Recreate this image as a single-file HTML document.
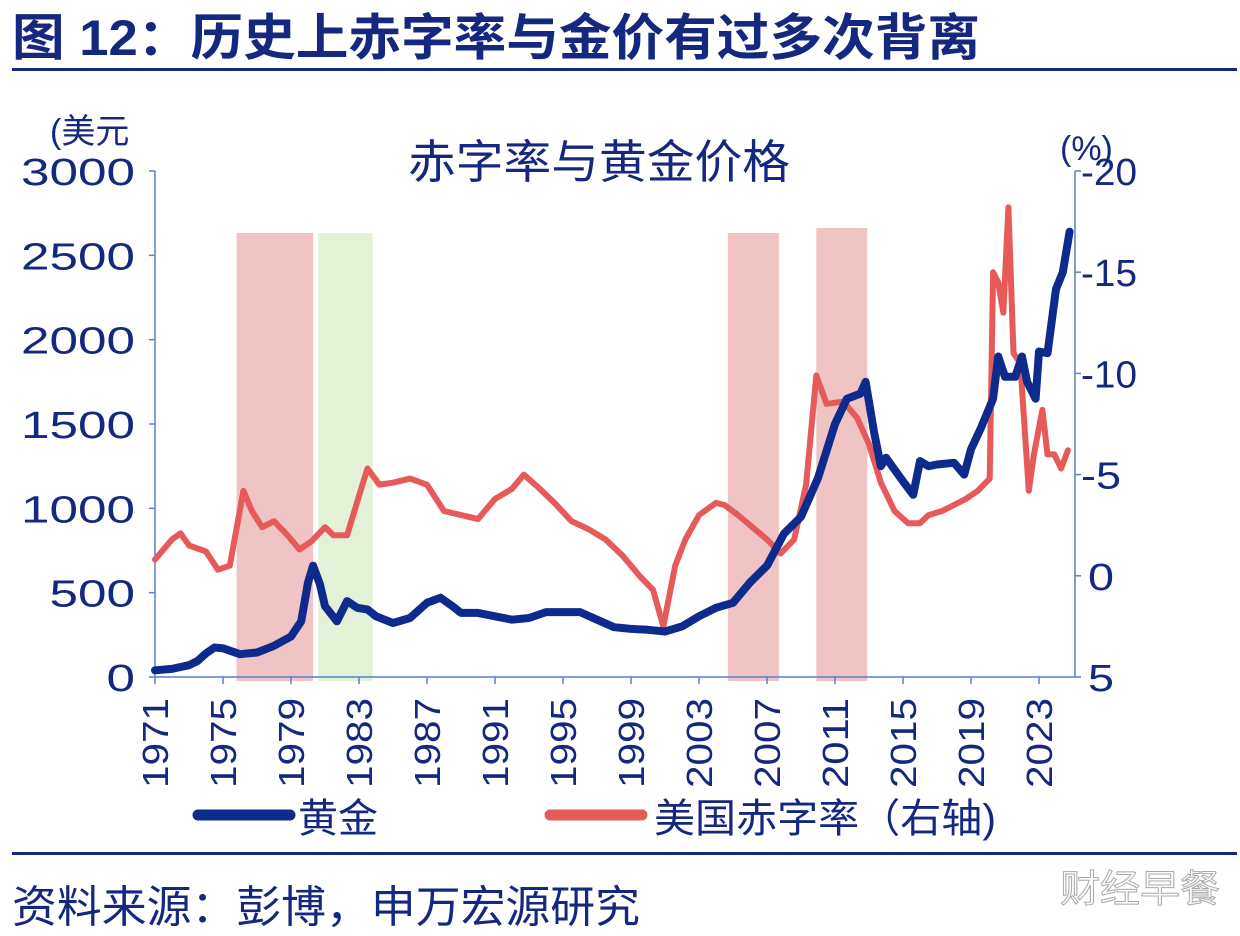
<!DOCTYPE html>
<html><head><meta charset="utf-8"><style>
html,body{margin:0;padding:0;background:#fff;}
body{width:1240px;height:936px;overflow:hidden;position:relative;font-family:"Liberation Sans","Noto Sans CJK SC",sans-serif;color:#14287f;}
</style></head><body>
<svg width="1240" height="936" viewBox="0 0 1240 936" xmlns="http://www.w3.org/2000/svg" style="position:absolute;left:0;top:0" font-family="Liberation Sans, Noto Sans CJK SC, sans-serif">
<text x="12" y="55" font-size="50" font-weight="bold" fill="#14287f" textLength="968" lengthAdjust="spacingAndGlyphs">图 12：历史上赤字率与金价有过多次背离</text>
<rect x="12" y="68" width="1225" height="3" fill="#14287f"/>
<text x="408" y="178" font-size="46" fill="#14287f" textLength="382" lengthAdjust="spacingAndGlyphs">赤字率与黄金价格</text>
<text x="50" y="143" font-size="34" fill="#14287f">(美元</text>
<text x="1060" y="160" font-size="34" fill="#14287f">(%)</text>
<g id="bands"></g>
<g id="axes"></g>
<g id="lines"></g>
<g>
<line x1="198" y1="815" x2="290" y2="815" stroke="#0d2a8c" stroke-width="11" stroke-linecap="round"/>
<text x="298" y="832" font-size="40" fill="#14287f">黄金</text>
<line x1="550" y1="815" x2="642" y2="815" stroke="#e65a5a" stroke-width="11" stroke-linecap="round"/>
<text x="654" y="832" font-size="40" fill="#14287f" textLength="342" lengthAdjust="spacingAndGlyphs">美国赤字率（右轴)</text>
</g>
<rect x="12" y="852" width="1225" height="3" fill="#14287f"/>
<text x="12" y="922" font-size="44" fill="#14287f" textLength="628" lengthAdjust="spacingAndGlyphs">资料来源：彭博，申万宏源研究</text>
<text x="1060" y="902" font-size="38" fill="#fff" stroke="#aaa" stroke-width="1" textLength="160" lengthAdjust="spacingAndGlyphs">财经早餐</text>
</svg>
<script>
const leftTicks=[0,500,1000,1500,2000,2500,3000];
const rightTicks=[5,0,-5,-10,-15,-20];
const yearTicks=[1971,1975,1979,1983,1987,1991,1995,1999,2003,2007,2011,2015,2019,2023];
const goldYears=[1971,1972,1973,1973.5,1974,1974.5,1975,1976,1977,1978,1979,1979.6,1980,1980.3,1980.7,1981,1981.7,1982.3,1982.9,1983.5,1984,1985,1986,1987,1987.8,1988.5,1989,1990,1991,1992,1993,1994,1995,1996,1997,1998,1999,2000,2001,2002,2003,2004,2005,2006,2007,2008,2009,2010,2011,2011.7,2012.5,2012.8,2013.3,2013.7,2014,2015,2015.6,2016,2016.5,2017,2018,2018.6,2019,2019.6,2020.3,2020.6,2021,2021.6,2022,2022.3,2022.8,2023,2023.5,2024,2024.4,2024.8];
const goldValues=[40,48,70,95,140,175,170,135,145,185,240,330,560,660,550,420,330,450,410,400,360,320,350,440,470,420,380,380,360,340,350,385,385,385,340,295,285,280,270,300,360,410,440,560,660,850,950,1180,1500,1650,1680,1750,1450,1250,1300,1160,1080,1280,1250,1260,1270,1200,1350,1480,1650,1900,1780,1780,1900,1750,1650,1930,1920,2300,2400,2640];
const defYears=[1971,1972,1972.5,1973,1974,1974.7,1975.4,1976.2,1976.7,1977.3,1978,1978.8,1979.5,1980.2,1981,1981.5,1982.3,1983.2,1983.5,1984.2,1985,1986,1987,1988,1989,1990,1991,1992,1992.7,1993.5,1994.5,1995.5,1996.5,1997.5,1998.5,1999.5,2000.3,2000.9,2001.6,2002.2,2003,2004,2004.5,2005.3,2006,2007,2007.8,2008.6,2009.3,2009.9,2010.5,2011.5,2012.3,2013,2013.7,2014.5,2015.3,2016,2016.5,2017.3,2018,2018.7,2019.4,2020.1,2020.3,2020.6,2020.9,2021.2,2021.5,2021.9,2022.4,2022.7,2023.2,2023.5,2023.9,2024.3,2024.7];
const defValues=[-0.8,-1.8,-2.1,-1.5,-1.2,-0.3,-0.5,-4.2,-3.2,-2.4,-2.7,-2.0,-1.3,-1.7,-2.4,-2.0,-2.0,-4.5,-5.3,-4.5,-4.6,-4.8,-4.5,-3.2,-3.0,-2.8,-3.8,-4.3,-5.0,-4.4,-3.6,-2.7,-2.3,-1.8,-1.0,0.0,0.7,2.5,-0.5,-1.8,-3.0,-3.6,-3.5,-3.0,-2.5,-1.8,-1.1,-1.8,-4.5,-9.9,-8.5,-8.6,-7.8,-6.5,-4.6,-3.2,-2.6,-2.6,-3.0,-3.2,-3.5,-3.8,-4.2,-4.8,-15.0,-14.5,-13.0,-18.2,-11.0,-10.5,-4.2,-6.0,-8.2,-6.0,-6.0,-5.3,-6.2];
const bandStarts=[1975.8,1980.6,2004.7,2009.9];
const bandEnds=[1980.3,1983.8,2007.7,2012.9];
const bandKinds=['red','green','red','red'];

const NS='http://www.w3.org/2000/svg';
const X0=155,Y0=677,Y1=171,XR=1075;
function xs(y){return X0+(y-1971)*17;}
function yl(v){return Y0-(v/3000)*(Y0-Y1);}
function yr(v){return Y1+((v+20)/25)*(Y0-Y1);}
function mk(tag,attrs,parent){const e=document.createElementNS(NS,tag);for(const k in attrs)e.setAttribute(k,attrs[k]);parent.appendChild(e);return e;}
const bands=document.getElementById('bands'),axes=document.getElementById('axes'),lines=document.getElementById('lines');
bandStarts.forEach((s,i)=>{
 const r=mk('rect',{x:xs(s),y:i===3?228:233,width:xs(bandEnds[i])-xs(s),height:Y0+4-(i===3?228:233),fill:bandKinds[i]==='red'?'#f0c4c4':'#e3f2d6'},bands);
 
 
});
let a=mk('line',{x1:X0,y1:Y1,x2:X0,y2:Y0,stroke:'#5b7fc7','stroke-width':1.5},axes);

a=mk('line',{x1:XR,y1:Y1,x2:XR,y2:Y0,stroke:'#5b7fc7','stroke-width':1.5},axes);

a=mk('line',{x1:X0,y1:Y0,x2:XR,y2:Y0,stroke:'#5b7fc7','stroke-width':1.5},axes);

leftTicks.forEach(v=>{
 mk('line',{x1:X0-6,y1:yl(v),x2:X0,y2:yl(v),stroke:'#5b7fc7','stroke-width':1.5},axes);
 const s=String(v);
 const t=mk('text',{x:135-s.length*28.5,y:yl(v)+14,'font-size':38,fill:'#14287f',textLength:s.length*28.5,lengthAdjust:'spacingAndGlyphs'},axes);t.textContent=s;
 
});
rightTicks.forEach(v=>{
 mk('line',{x1:XR,y1:yr(v),x2:XR+6,y2:yr(v),stroke:'#5b7fc7','stroke-width':1.5},axes);
 const s=String(v);
 const w=s.length===1?26:(s.length===2?40:56);
 const t=mk('text',{x:v<0?1081:1088,y:yr(v)+14,'font-size':38,fill:'#14287f',textLength:w,lengthAdjust:'spacingAndGlyphs'},axes);t.textContent=s;
 
});
yearTicks.forEach(y=>{
 const x=xs(y);
 mk('line',{x1:x,y1:Y0,x2:x,y2:Y0+7,stroke:'#5b7fc7','stroke-width':1.5},axes);
 const t=mk('text',{x:0,y:0,'font-size':36,'text-anchor':'end',fill:'#14287f',textLength:90,lengthAdjust:'spacingAndGlyphs',transform:'translate('+(x+13)+',698) rotate(-90)'},axes);t.textContent=y;
 
});
function path(xsArr,vals,fy){return xsArr.map((y,i)=>(i?'L':'M')+xs(y).toFixed(1)+','+fy(vals[i]).toFixed(1)).join(' ');}
let p=mk('path',{d:path(defYears,defValues,yr),fill:'none',stroke:'#e65a5a','stroke-width':6,'stroke-linejoin':'round','stroke-linecap':'round'},lines);

p=mk('path',{d:path(goldYears,goldValues,yl),fill:'none',stroke:'#0d2a8c','stroke-width':8,'stroke-linejoin':'round','stroke-linecap':'round'},lines);

</script>
</body></html>
